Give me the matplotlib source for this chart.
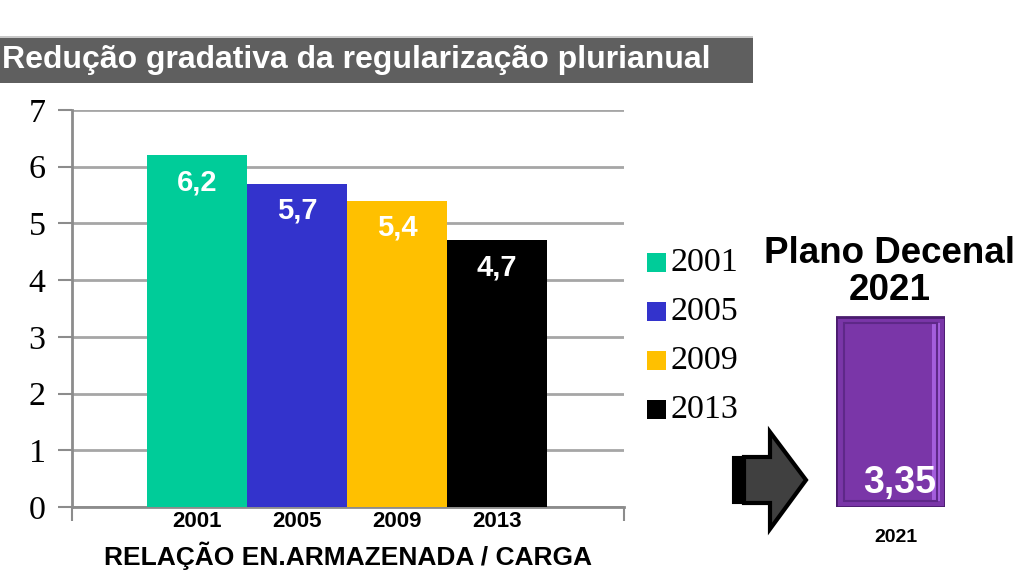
import matplotlib
matplotlib.use("Agg")
import matplotlib.pyplot as plt
from matplotlib.patches import Rectangle, Polygon

# ---- data ----
years = ["2001", "2005", "2009", "2013"]
values = [6.2, 5.7, 5.4, 4.7]
value_labels = ["6,2", "5,7", "5,4", "4,7"]
colors = ["#00CC99", "#3333CC", "#FFC000", "#000000"]
yticks = [0, 1, 2, 3, 4, 5, 6, 7]
plan_year = "2021"
plan_value = 3.35
plan_label = "3,35"
title = "Redução gradativa da regularização plurianual"
xlabel = "RELAÇÃO EN.ARMAZENADA / CARGA"
plan_title = "Plano Decenal\n2021"

W, H = 1033, 580
SANS = "Liberation Sans"
SERIF = "Liberation Serif"

fig = plt.figure(figsize=(W / 100, H / 100), dpi=100)
fig.patch.set_facecolor("white")

def fbox(x0, x1, ytop, ybot):
    return [x0 / W, 1 - ybot / H, (x1 - x0) / W, (ybot - ytop) / H]

# ---- main axes ----
ax = fig.add_axes(fbox(72, 624, 110, 507))
xpos = list(range(len(years)))
ax.bar(xpos, values, width=1.0, color=colors, zorder=3)
ax.set_ylim(0, 7)
ax.set_xlim(-1.25, 4.27)
ax.set_yticks(yticks)
ax.set_yticklabels([str(t) for t in yticks], fontsize=24.5, family=SERIF)
ax.tick_params(axis="y", length=10, width=1.5, color="#8c8c8c", pad=9, direction="out")
ax.yaxis.grid(True, color="#a6a6a6", linewidth=2, zorder=0)
ax.set_xticks(xpos)
ax.set_xticklabels(years, fontsize=16, fontweight="bold", family=SANS)
ax.tick_params(axis="x", length=0, pad=3)
ax.set_xticks([-1.25, 4.27], minor=True)
ax.tick_params(axis="x", which="minor", length=10, width=1.5, color="#8c8c8c", direction="out")
for s in ["top", "right"]:
    ax.spines[s].set_visible(False)
for s in ["left", "bottom"]:
    ax.spines[s].set_color("#8c8c8c")
    ax.spines[s].set_linewidth(2)
ax.set_xlabel(xlabel, fontsize=19, fontweight="bold", family=SANS, labelpad=7)
for x, v, lab in zip(xpos, values, value_labels):
    ax.text(x, v - 0.48, lab, ha="center", va="center", color="white",
            fontsize=21, fontweight="bold", family=SANS, zorder=4)

# ---- plan axes ----
ax2 = fig.add_axes(fbox(836, 945, 110, 507))
ax2.set_xlim(0, 1)
ax2.set_ylim(0, 7)
ax2.axis("off")
ax2.bar([0.5], [plan_value], width=1.0, color="#7A36A8", edgecolor="#4A1C6E",
        linewidth=2, zorder=2)
ax2.add_patch(Rectangle((0.88, 0.1), 0.07, plan_value - 0.2, facecolor="#A45EDC",
                        edgecolor="none", zorder=3))
ax2.add_patch(Rectangle((0.07, 0.1), 0.86, plan_value - 0.2, facecolor="none",
                        edgecolor="#5E2888", linewidth=1.5, zorder=3))
ax2.text(0.58, 0.42, plan_label, ha="center", va="center", color="white",
         fontsize=27, fontweight="bold", family=SANS, zorder=4)
ax2.text(0.55, -0.53, plan_year, ha="center", va="center", color="black",
         fontsize=14, fontweight="bold", family=SANS)

# ---- overlay (pixel coordinates) ----
ov2 = fig.add_axes([0, 0, 1, 1], zorder=5)
ov2.set_xlim(0, W)
ov2.set_ylim(H, 0)
ov2.axis("off")
ov2.patch.set_alpha(0)

# title bar
ov2.add_patch(Rectangle((0, 36), 753, 2, facecolor="#c8c8c8", edgecolor="none"))
ov2.add_patch(Rectangle((0, 38), 753, 45, facecolor="#5f5f5f", edgecolor="none"))
ov2.text(2, 60, title, ha="left", va="center", color="white", fontsize=23,
         fontweight="bold", family=SANS)

# legend
leg_y = [262, 311, 360, 409]
for yy, c, lab in zip(leg_y, colors, years):
    ov2.add_patch(Rectangle((647, yy - 9.5), 19, 19, facecolor=c, edgecolor="none"))
    ov2.text(671, yy + 1, lab, ha="left", va="center", fontsize=24.5, family=SERIF)

# plan title
ov2.text(890, 272, plan_title, ha="center", va="center", fontsize=26.5,
         fontweight="bold", family=SANS, linespacing=1.08)

# arrow
ov2.add_patch(Rectangle((733, 457), 8, 46, facecolor="black", edgecolor="black", lw=1.5))
ov2.add_patch(Polygon([(744, 457), (770, 457), (770, 432), (806, 480), (770, 529),
                       (770, 503), (744, 503)], closed=True, facecolor="#404040",
                      edgecolor="black", linewidth=3, joinstyle="miter"))

fig.savefig("out.png", dpi=100)
